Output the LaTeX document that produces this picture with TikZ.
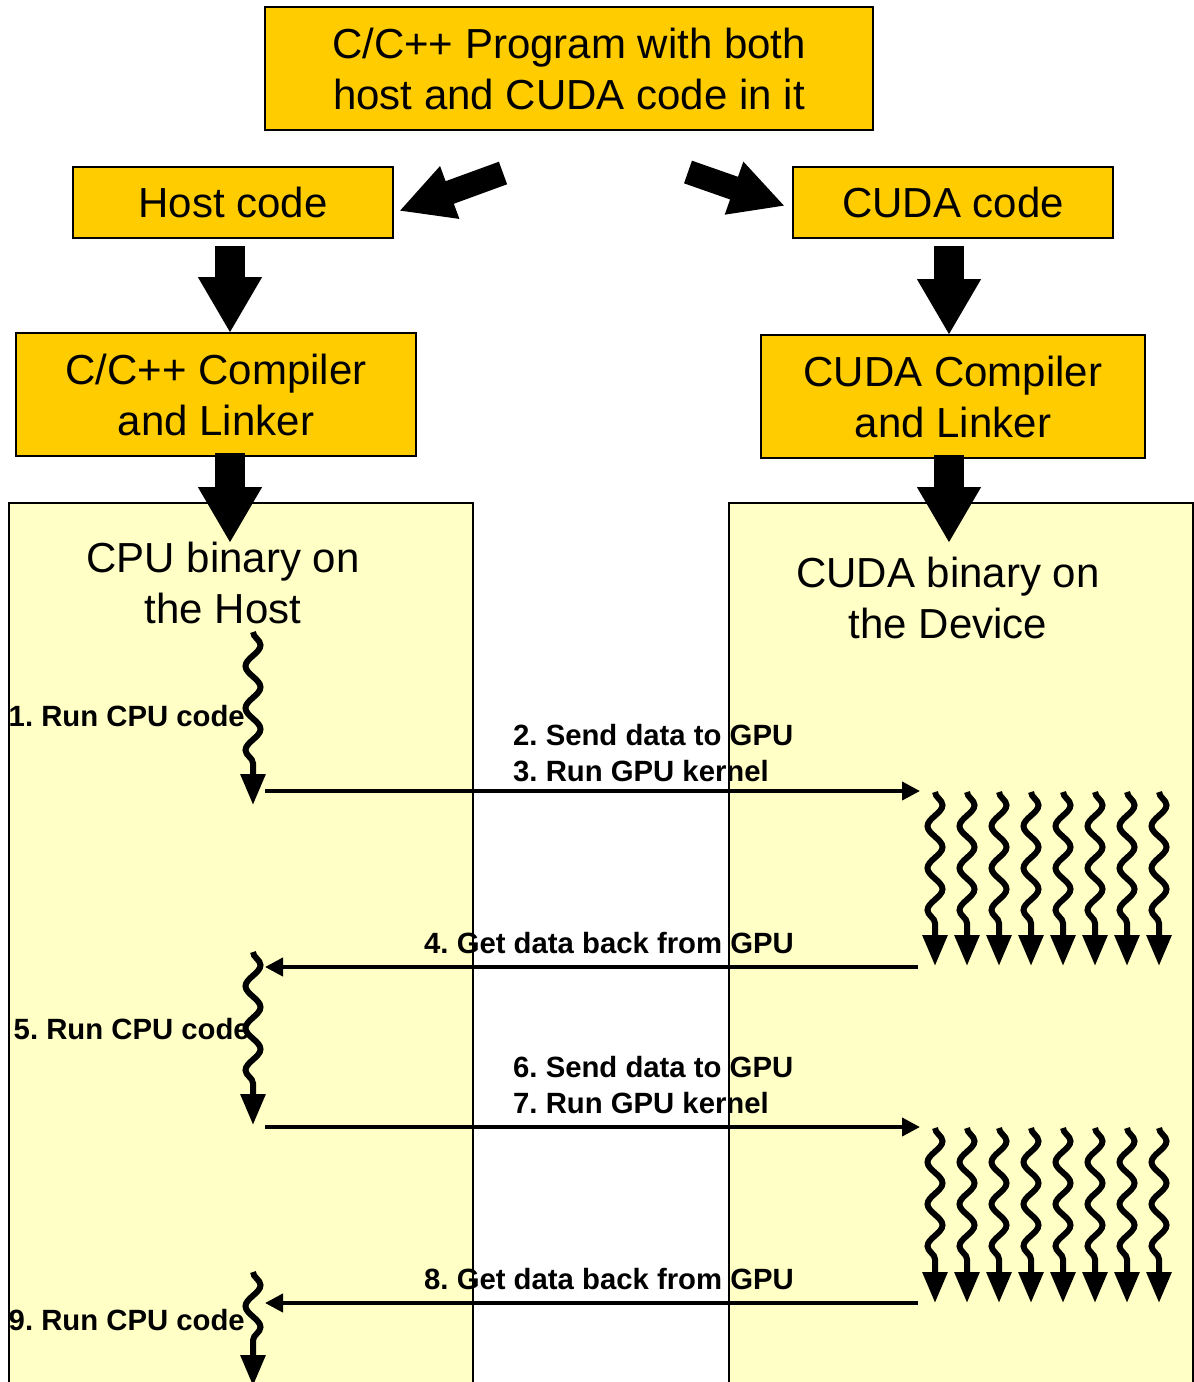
\documentclass[tikz,border=0pt]{standalone}
\usepackage{fontspec}
\setmainfont{Liberation Sans}
\usetikzlibrary{arrows.meta,decorations.pathmorphing}
\definecolor{gold}{HTML}{FFCC00}
\definecolor{pale}{HTML}{FFFFC6}
\begin{document}
\begin{tikzpicture}[x=1pt,y=-1pt,
  box/.style={draw=black, line width=2pt, fill=gold, inner sep=0pt, align=center,
    font=\fontsize{42pt}{51pt}\selectfont},
  panelfill/.style={fill=pale, draw=none, inner sep=0pt, anchor=north west,
    minimum width=464pt, minimum height=900pt},
  panelborder/.style={draw=black, line width=2pt},
  bigtext/.style={inner sep=0pt, align=center, font=\fontsize{42pt}{51pt}\selectfont},
  lbl/.style={inner sep=0pt, font=\fontsize{29.3pt}{36pt}\selectfont\bfseries\frenchspacing},
  fat/.style={line width=30pt, -{Triangle[length=56pt,width=60pt]}},
  fatd/.style={line width=24pt, -{Triangle[length=54pt,width=52pt]}},
  msg/.style={line width=4pt, -{Triangle[length=18pt,width=18pt]}},
  thread/.style={line width=6pt, decorate,
    decoration={snake, amplitude=7.5pt, segment length=42pt, post length=30pt},
    -{Triangle[length=31pt,width=24pt]}}
]
\useasboundingbox (0,0) rectangle (1194,1382);
\clip (0,0) rectangle (1194,1382);

% panels (fill)
\node[panelfill] (hostpanel) at (9,503) {};
\node[panelfill] (devpanel) at (729,503) {};

% boxes
\node[box, minimum width=608pt, minimum height=123pt] (prog) at (569,68.5)
  {C/C++ Program with both\\host and CUDA code in it};
\node[box, minimum width=320pt, minimum height=71pt] (host) at (233,202.5) {Host code};
\node[box, minimum width=320pt, minimum height=71pt] (cuda) at (953,202.5) {CUDA code};
\node[box, minimum width=400pt, minimum height=123pt] (hcc) at (216,394.5)
  {C/C++ Compiler\\and Linker};
\node[box, minimum width=384pt, minimum height=123pt] (dcc) at (953,396.5)
  {CUDA Compiler\\and Linker};

% panel titles
\node[bigtext] (cpubin) at (223,582.5) {CPU binary on\\the Host};
\node[bigtext] (gpubin) at (948,597.5) {CUDA binary on\\the Device};

% fat arrows
\coordinate (pl1) at (503,173);
\coordinate (pl2) at (399,211);
\coordinate (pr1) at (688,172);
\coordinate (pr2) at (785,206);
\coordinate (h1) at (230,246);
\coordinate (h2) at (230,333);
\coordinate (h3) at (230,453);
\coordinate (h4) at (230,543);
\coordinate (d1) at (949,246);
\coordinate (d2) at (949,335);
\coordinate (d3) at (949,455);
\coordinate (d4) at (949,543);
\draw[fatd] (pl1) -- (pl2);
\draw[fatd] (pr1) -- (pr2);
\draw[fat] (h1) -- (h2);
\draw[fat] (h3) -- (h4);
\draw[fat] (d1) -- (d2);
\draw[fat] (d3) -- (d4);

% host threads
\coordinate (t1a) at (253,632);  \coordinate (t1b) at (253,805);
\coordinate (t2a) at (253,952);  \coordinate (t2b) at (253,1125);
\coordinate (t3a) at (253,1272); \coordinate (t3b) at (253,1386);
\draw[thread] (t1a) -- (t1b);
\draw[thread] (t2a) -- (t2b);
\draw[thread] (t3a) -- (t3b);

% GPU threads
\foreach \i in {0,...,7}{
  \coordinate (ga\i) at ({935+32*\i},792);
  \coordinate (gb\i) at ({935+32*\i},966);
  \coordinate (gc\i) at ({935+32*\i},1128);
  \coordinate (gd\i) at ({935+32*\i},1303);
  \draw[thread] (ga\i) -- (gb\i);
  \draw[thread] (gc\i) -- (gd\i);
}

% messages
\coordinate (m1a) at (265,791);  \coordinate (m1b) at (920,791);
\coordinate (m2a) at (918,967);  \coordinate (m2b) at (265,967);
\coordinate (m3a) at (265,1127); \coordinate (m3b) at (920,1127);
\coordinate (m4a) at (918,1303); \coordinate (m4b) at (265,1303);
\draw[msg] (m1a) -- (m1b);
\draw[msg] (m2a) -- (m2b);
\draw[msg] (m3a) -- (m3b);
\draw[msg] (m4a) -- (m4b);

% labels
\node[lbl, anchor=east] (l1) at (245,716) {1. Run CPU code};
\node[lbl, anchor=base west] (l2) at (513,745) {2. Send data to GPU};
\node[lbl, anchor=base west] (l3) at (513,781) {3. Run GPU kernel};
\node[lbl, anchor=base west] (l4) at (424,953) {4. Get data back from GPU};
\node[lbl, anchor=east] (l5) at (250,1029) {5. Run CPU code};
\node[lbl, anchor=base west] (l6) at (513,1077) {6. Send data to GPU};
\node[lbl, anchor=base west] (l7) at (513,1113) {7. Run GPU kernel};
\node[lbl, anchor=base west] (l8) at (424,1289) {8. Get data back from GPU};
\node[lbl, anchor=east] (l9) at (245,1320) {9. Run CPU code};

% panel borders on top
\draw[panelborder] (hostpanel.north west) rectangle (hostpanel.south east);
\draw[panelborder] (devpanel.north west) rectangle (devpanel.south east);
\end{tikzpicture}
\end{document}
